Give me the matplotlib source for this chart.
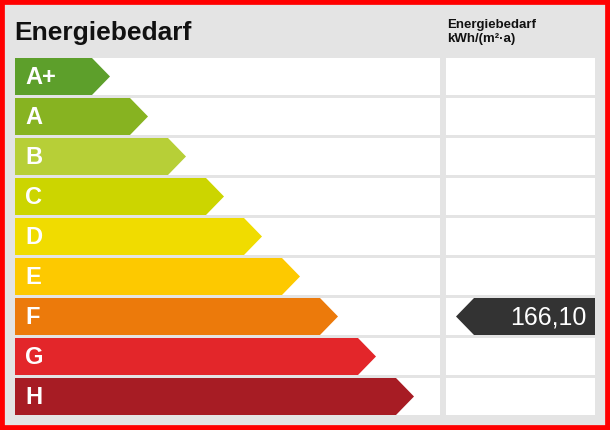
import matplotlib.pyplot as plt
from matplotlib.patches import Polygon, Rectangle

plt.rcParams['font.family'] = ['Liberation Sans', 'DejaVu Sans']

classes = ['A+', 'A', 'B', 'C', 'D', 'E', 'F', 'G', 'H']
colors = ['#5d9f2b', '#87b321', '#b7cf37', '#ccd500', '#f0dc00',
          '#fdc900', '#ec7a0b', '#e3262a', '#a71c24']
value_label = '166,10'
value_class = 'F'
title = 'Energiebedarf'
unit_title = 'Energiebedarf\nkWh/(m²·a)'

fig = plt.figure(figsize=(6.1, 4.3), dpi=100)
ax = fig.add_axes([0, 0, 1, 1])
ax.set_xlim(0, 610)
ax.set_ylim(430, 0)
ax.axis('off')

ax.add_patch(Rectangle((0, 0), 610, 430, fc='#e4e4e4', ec='#ff0000', lw=7))
ax.text(14, 33, title, fontsize=19, fontweight='bold', va='center', color='#111111')
ax.text(447, 32, unit_title, fontsize=9.5, fontweight='bold', va='center',
        color='#111111', linespacing=1.3)

top, step, h = 58, 40, 37
for i, (c, col) in enumerate(zip(classes, colors)):
    y = top + i * step
    ax.add_patch(Rectangle((15, y), 425, h, fc='white', ec='none'))
    ax.add_patch(Rectangle((446, y), 149, h, fc='white', ec='none'))
    end = 92 + i * 38
    ax.add_patch(Polygon([(15, y), (end, y), (end + 18, y + h / 2),
                          (end, y + h), (15, y + h)], fc=col, ec='none'))
    ax.text(25, y + h / 2 + 1, c, fontsize=17, fontweight='bold', color='white',
            va='center', ha='left')
    if c == value_class:
        ax.add_patch(Polygon([(456, y + h / 2), (474, y), (595, y), (595, y + h),
                              (474, y + h)], fc='#333333', ec='none'))
        ax.text(587, y + h / 2 + 1, value_label, fontsize=18, color='white',
                va='center', ha='right')

fig.savefig('out.png', dpi=100)
